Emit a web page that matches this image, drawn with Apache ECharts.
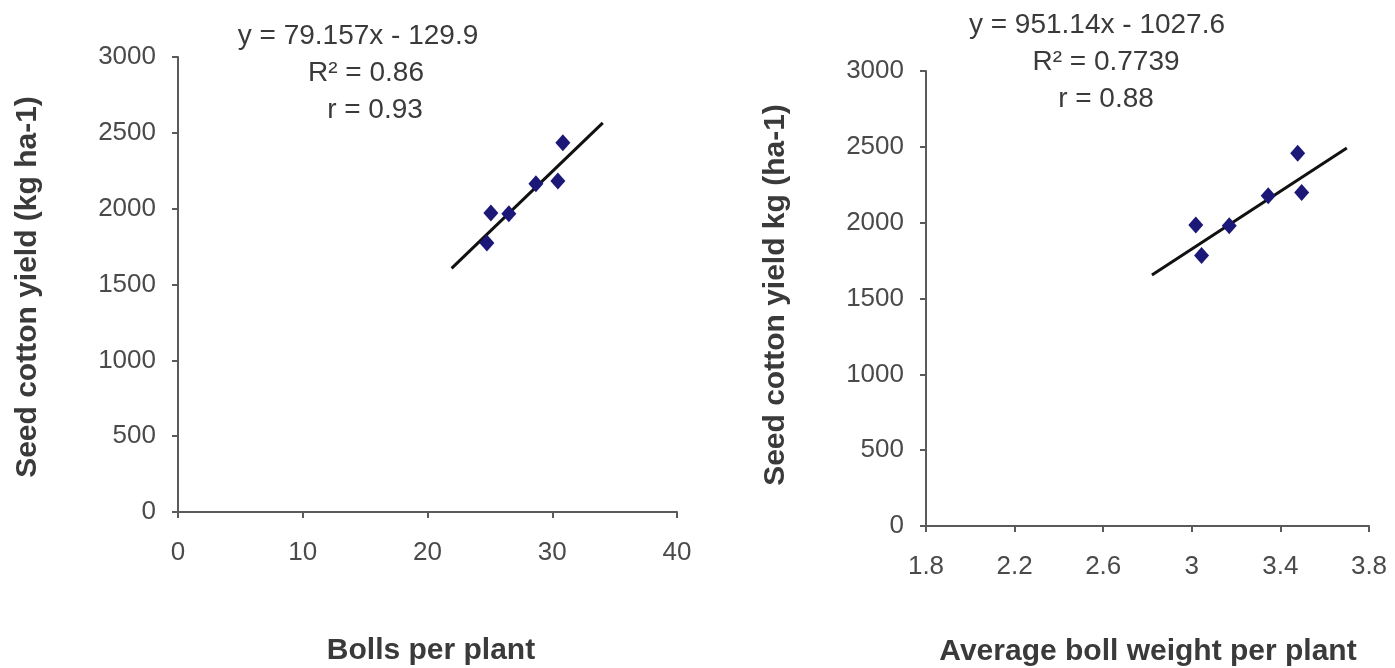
<!DOCTYPE html>
<html>
<head>
<meta charset="utf-8">
<script src="https://cdn.jsdelivr.net/npm/echarts@6/dist/echarts.min.js"></script>
<style>
  html, body { margin: 0; padding: 0; background: #fff; }
  #chart { width: 1395px; height: 668px; }
</style>
</head>
<body>
<div id="chart"></div>
<script>
// Seed cotton yield (kg/ha) for six treatments
const yieldBolls = [2434, 2183, 2164, 1966, 1972, 1774];
const bollsPerPlant = [30.85, 30.45, 28.69, 26.52, 25.08, 24.76];

const yieldWeight = [2458, 2199, 2177, 1979, 1985, 1783];
const bollWeight = [3.478, 3.496, 3.345, 3.169, 3.018, 3.044];

// Fitted linear trends (slope, intercept) and the x span they cover
const fitBolls = { slope: 79.157, intercept: -129.9, r2: '0.86', r: '0.93', from: 21.93, to: 34.05 };
const fitWeight = { slope: 951.14, intercept: -1027.6, r2: '0.7739', r: '0.88', from: 2.82, to: 3.70 };

const yTicks = [0, 500, 1000, 1500, 2000, 2500, 3000];
const xTicksBolls = [0, 10, 20, 30, 40];
const xTicksWeight = [1.8, 2.2, 2.6, 3, 3.4, 3.8];

const pairs = (xs, ys) => xs.map((x, i) => [x, ys[i]]);
const trend = f => [[f.from, f.slope * f.from + f.intercept], [f.to, f.slope * f.to + f.intercept]];
const eqText = f => 'y = ' + f.slope + 'x - ' + Math.abs(f.intercept);

const FONT = '"Liberation Sans", Arial, sans-serif';
const AXIS_COLOR = '#5a5a5a';
const LABEL_COLOR = '#4a4a4a';

function axisBase(fmt, margin) {
  return {
    type: 'value',
    splitLine: { show: false },
    axisLine: { show: true, onZero: false, lineStyle: { color: AXIS_COLOR, width: 2 } },
    axisTick: { show: true, inside: false, length: 6, lineStyle: { color: AXIS_COLOR, width: 2 } },
    axisLabel: { color: LABEL_COLOR, fontFamily: FONT, fontSize: 26, margin: margin, formatter: fmt }
  };
}

const chart = echarts.init(document.getElementById('chart'), null, { renderer: 'canvas' });

const titleStyle = { fill: '#3a3a3a', font: 'bold 30px "Liberation Sans", Arial, sans-serif' };
const noteStyle = { fill: '#3a3a3a', font: '28px ' + FONT };
const plain = v => String(+(+v).toFixed(1));

chart.setOption({
  backgroundColor: '#ffffff',
  animation: false,
  grid: [
    { left: 178, top: 57, width: 499, height: 455, containLabel: false },
    { left: 926, top: 71, width: 443, height: 455, containLabel: false }
  ],
  xAxis: [
    Object.assign(axisBase(plain, 28), { gridIndex: 0, min: xTicksBolls[0], max: xTicksBolls[xTicksBolls.length - 1], interval: 10 }),
    Object.assign(axisBase(plain, 28), { gridIndex: 1, min: xTicksWeight[0], max: xTicksWeight[xTicksWeight.length - 1], interval: 0.4 })
  ],
  yAxis: [
    Object.assign(axisBase(plain, 22), { gridIndex: 0, min: yTicks[0], max: yTicks[yTicks.length - 1], interval: 500 }),
    Object.assign(axisBase(plain, 22), { gridIndex: 1, min: yTicks[0], max: yTicks[yTicks.length - 1], interval: 500 })
  ],
  series: [
    { type: 'line', xAxisIndex: 0, yAxisIndex: 0, data: trend(fitBolls), symbol: 'none',
      lineStyle: { color: '#111', width: 3 }, z: 2 },
    { type: 'scatter', xAxisIndex: 0, yAxisIndex: 0, data: pairs(bollsPerPlant, yieldBolls),
      symbol: 'diamond', symbolSize: [15, 17], itemStyle: { color: '#1c1878', opacity: 1 }, z: 3 },
    { type: 'line', xAxisIndex: 1, yAxisIndex: 1, data: trend(fitWeight), symbol: 'none',
      lineStyle: { color: '#111', width: 3 }, z: 2 },
    { type: 'scatter', xAxisIndex: 1, yAxisIndex: 1, data: pairs(bollWeight, yieldWeight),
      symbol: 'diamond', symbolSize: [15, 17], itemStyle: { color: '#1c1878', opacity: 1 }, z: 3 }
  ],
  graphic: [
    // axis titles
    { type: 'text', x: 28, y: 287, rotation: Math.PI / 2,
      style: Object.assign({ text: 'Seed cotton yield (kg ha-1)', align: 'center', verticalAlign: 'middle' }, titleStyle) },
    { type: 'text', x: 431, y: 651,
      style: Object.assign({ text: 'Bolls per plant', align: 'center', verticalAlign: 'middle' }, titleStyle) },
    { type: 'text', x: 776, y: 295, rotation: Math.PI / 2,
      style: Object.assign({ text: 'Seed cotton yield kg (ha-1)', align: 'center', verticalAlign: 'middle' }, titleStyle) },
    { type: 'text', x: 1148, y: 652,
      style: Object.assign({ text: 'Average boll weight per plant', align: 'center', verticalAlign: 'middle' }, titleStyle) },
    // regression notes
    { type: 'text', x: 358, y: 36, style: Object.assign({ text: eqText(fitBolls), align: 'center', verticalAlign: 'middle' }, noteStyle) },
    { type: 'text', x: 366, y: 73, style: Object.assign({ text: 'R² = ' + fitBolls.r2, align: 'center', verticalAlign: 'middle' }, noteStyle) },
    { type: 'text', x: 375, y: 110, style: Object.assign({ text: 'r = ' + fitBolls.r, align: 'center', verticalAlign: 'middle' }, noteStyle) },
    { type: 'text', x: 1097, y: 25, style: Object.assign({ text: eqText(fitWeight), align: 'center', verticalAlign: 'middle' }, noteStyle) },
    { type: 'text', x: 1106, y: 62, style: Object.assign({ text: 'R² = ' + fitWeight.r2, align: 'center', verticalAlign: 'middle' }, noteStyle) },
    { type: 'text', x: 1106, y: 99, style: Object.assign({ text: 'r = ' + fitWeight.r, align: 'center', verticalAlign: 'middle' }, noteStyle) }
  ]
});
</script>
</body>
</html>
